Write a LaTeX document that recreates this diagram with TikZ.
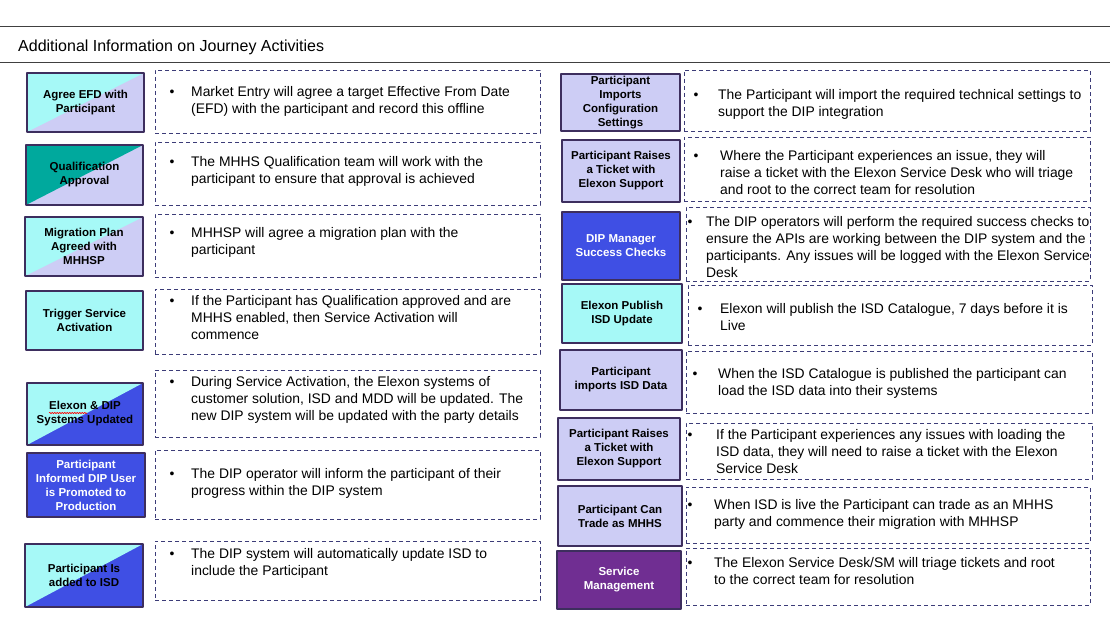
\documentclass[tikz,border=0pt]{standalone}
\usepackage{fontspec}
\setmainfont{Liberation Sans}
\usetikzlibrary{decorations.pathmorphing}
\definecolor{cyanfill}{HTML}{A6F9F7}
\definecolor{lavfill}{HTML}{CDCDF5}
\definecolor{tealfill}{HTML}{00A99D}
\definecolor{bluefill}{HTML}{3F4FE4}
\definecolor{purplefill}{HTML}{702E92}
\definecolor{labline}{HTML}{3D2E5E}
\definecolor{dashline}{HTML}{3C3C78}
\definecolor{ruleline}{HTML}{404040}
\newcommand{\infolines}[2]{\begin{tabular}{@{}p{#1pt}@{}l@{}}\textbullet&#2\end{tabular}}
\begin{document}
\begin{tikzpicture}[x=1pt, y=-1pt, line join=round]
	\tikzset{
		half/.style 2 args={fill=#2, path picture={\fill[#1] (path picture bounding box.south west) -- (path picture bounding box.north west) -- (path picture bounding box.north east) -- cycle;}},
		labbox/.style={draw=labline, line width=1.2pt, align=center, inner sep=1pt, font=\fontsize{11.5}{14}\selectfont\bfseries},
		cyanlav/.style={labbox, half={cyanfill}{lavfill}},
		teallav/.style={labbox, half={tealfill}{lavfill}},
		cyanblue/.style={labbox, half={cyanfill}{bluefill}},
		cyanbox/.style={labbox, fill=cyanfill},
		lavbox/.style={labbox, fill=lavfill},
		bluebox/.style={labbox, fill=bluefill, text=white},
		purplebox/.style={labbox, fill=purplefill, text=white},
		infobox/.style={draw=dashline, dash pattern=on 4pt off 3pt, line width=0.9pt},
		infotxt/.style={anchor=north west, inner sep=0pt, font=\fontsize{13.9}{17}\selectfont}
	}
	\fill[white] (0,0) rectangle (1110,623);
	\useasboundingbox (0,0) rectangle (1110,623);
	% header
	\draw[ruleline, line width=1pt] (0,27) -- (1110,27);
	\draw[ruleline, line width=1pt] (0,63) -- (1110,63);
	\node[anchor=west, inner sep=0pt, font=\fontsize{16}{19}\selectfont] (title) at (18,47) {Additional Information on Journey Activities};
	% left column: activities
	\node[cyanlav, minimum width=117, minimum height=59] (agree) at (85.5,102.5) {Agree EFD with\\Participant};
	\node[teallav, minimum width=117, minimum height=60] (qual) at (84.5,175) {Qualification\\Approval};
	\node[cyanlav, minimum width=118, minimum height=59] (migplan) at (84,246.5) {Migration Plan\\Agreed with\\MHHSP};
	\node[cyanbox, minimum width=117, minimum height=59] (trigger) at (84.5,320.5) {Trigger Service\\Activation};
	\node[cyanblue, minimum width=116, minimum height=62] (sysupd) at (85,414) {Elexon \& DIP\\Systems Updated};
	\node[bluebox, minimum width=118, minimum height=64] (promoted) at (86,485) {Participant\\Informed DIP User\\is Promoted to\\Production};
	\node[cyanblue, minimum width=118, minimum height=63] (addisd) at (84,575.5) {Participant Is\\added to ISD};
	\draw[red, line width=0.6pt, decorate, decoration={snake, amplitude=0.7pt, segment length=2.5pt}] (49,413) -- (87,413);
	% left column: details
	\node[infobox, minimum width=385, minimum height=63] (agreeinfo) at (347.5,101.5) {};
	\node[infobox, minimum width=385, minimum height=63] (qualinfo) at (347.5,173.5) {};
	\node[infobox, minimum width=385, minimum height=63] (migplaninfo) at (347.5,245.5) {};
	\node[infobox, minimum width=385, minimum height=65] (triggerinfo) at (347.5,321.5) {};
	\node[infobox, minimum width=385, minimum height=67] (sysupdinfo) at (347.5,403.5) {};
	\node[infobox, minimum width=385, minimum height=69] (promotedinfo) at (347.5,484.5) {};
	\node[infobox, minimum width=385, minimum height=59] (addisdinfo) at (347.5,570.5) {};
	\node[infotxt] (agreetxt) at (169.5,84) {\infolines{21.5}{Market Entry will agree a target Effective From Date\\&(EFD) with the participant and record this offline}};
	\node[infotxt] (qualtxt) at (169.5,154) {\infolines{21.5}{The MHHS Qualification team will work with the\\&participant to ensure that approval is achieved}};
	\node[infotxt] (migplantxt) at (169.5,225) {\infolines{21.5}{MHHSP will agree a migration plan with the\\&participant}};
	\node[infotxt] (triggertxt) at (169.5,293) {\infolines{21.5}{If the Participant has Qualification approved and are\\&MHHS enabled, then Service Activation will\\&commence}};
	\node[infotxt] (sysupdtxt) at (169.5,374) {\infolines{21.5}{During Service Activation, the Elexon systems of\\&customer solution, ISD and MDD will be updated. The\\&new DIP system will be updated with the party details}};
	\node[infotxt] (promotedtxt) at (169.5,466) {\infolines{21.5}{The DIP operator will inform the participant of their\\&progress within the DIP system}};
	\node[infotxt] (addisdtxt) at (169.5,546) {\infolines{21.5}{The DIP system will automatically update ISD to\\&include the Participant}};
	% right column: activities
	\node[lavbox, minimum width=119, minimum height=57] (config) at (620.5,102.5) {Participant\\Imports\\Configuration\\Settings};
	\node[lavbox, minimum width=118, minimum height=62] (ticket) at (621,171) {Participant Raises\\a Ticket with\\Elexon Support};
	\node[bluebox, minimum width=118, minimum height=68] (checks) at (621,246) {DIP Manager\\Success Checks};
	\node[cyanbox, minimum width=120, minimum height=59] (publish) at (622,313.5) {Elexon Publish\\ISD Update};
	\node[lavbox, minimum width=122, minimum height=60] (import) at (621,380) {Participant\\imports ISD Data};
	\node[lavbox, minimum width=122, minimum height=62] (isdticket) at (619,449) {Participant Raises\\a Ticket with\\Elexon Support};
	\node[lavbox, minimum width=124, minimum height=60] (trade) at (620,516) {Participant Can\\Trade as MHHS};
	\node[purplebox, minimum width=124, minimum height=58] (servmgmt) at (619,580) {Service\\Management};
	% right column: details
	\node[infobox, minimum width=406, minimum height=61] (configinfo) at (887,100.5) {};
	\node[infobox, minimum width=406, minimum height=64] (ticketinfo) at (887,169) {};
	\node[infobox, minimum width=404, minimum height=74] (checksinfo) at (888,244) {};
	\node[infobox, minimum width=404, minimum height=60] (publishinfo) at (890,315) {};
	\node[infobox, minimum width=406, minimum height=62] (importinfo) at (889,382) {};
	\node[infobox, minimum width=406, minimum height=56] (isdticketinfo) at (889,451) {};
	\node[infobox, minimum width=404, minimum height=56] (tradeinfo) at (888,515) {};
	\node[infobox, minimum width=404, minimum height=57] (servmgmtinfo) at (888,576.5) {};
	\node[infotxt] (configtxt) at (693.5,87) {\infolines{24.5}{The Participant will import the required technical settings to\\&support the DIP integration}};
	\node[infotxt] (tickettxt) at (693.5,148) {\infolines{26.5}{Where the Participant experiences an issue, they will\\&raise a ticket with the Elexon Service Desk who will triage\\&and root to the correct team for resolution}};
	\node[infotxt] (checkstxt) at (687.5,214) {\infolines{18.5}{The DIP operators will perform the required success checks to\\&ensure the APIs are working between the DIP system and the\\&participants. Any issues will be logged with the Elexon Service\\&Desk}};
	\node[infotxt] (publishtxt) at (697.5,301) {\infolines{22.5}{Elexon will publish the ISD Catalogue, 7 days before it is\\&Live}};
	\node[infotxt] (importtxt) at (692.5,366) {\infolines{25.5}{When the ISD Catalogue is published the participant can\\&load the ISD data into their systems}};
	\node[infotxt] (isdtickettxt) at (687.5,427) {\infolines{28.5}{If the Participant experiences any issues with loading the\\&ISD data, they will need to raise a ticket with the Elexon\\&Service Desk}};
	\node[infotxt] (tradetxt) at (687.5,497) {\infolines{26.5}{When ISD is live the Participant can trade as an MHHS\\&party and commence their migration with MHHSP}};
	\node[infotxt] (servmgmttxt) at (687.5,555) {\infolines{26.5}{The Elexon Service Desk/SM will triage tickets and root\\&to the correct team for resolution}};
\end{tikzpicture}
\end{document}
